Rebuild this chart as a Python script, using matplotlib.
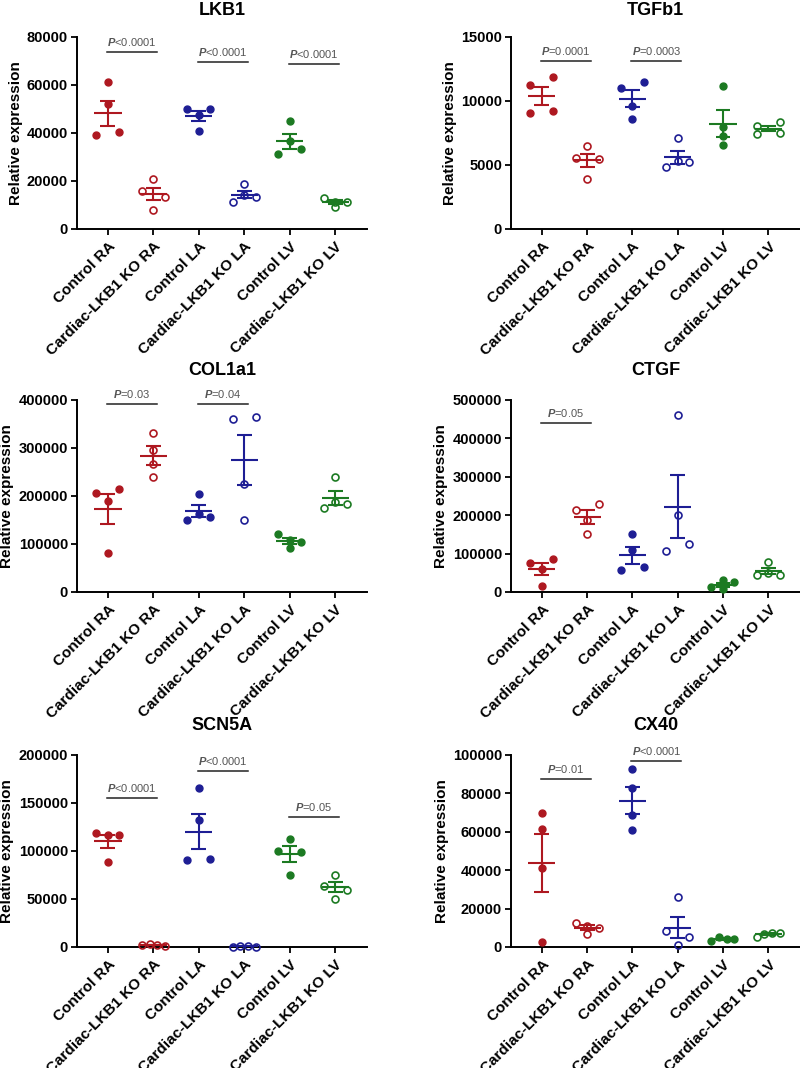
import numpy as np
import matplotlib
matplotlib.use('Agg')
import matplotlib.pyplot as plt

plt.rcParams['font.family'] = ['Liberation Sans', 'DejaVu Sans']
plt.rcParams['font.weight'] = 'bold'
plt.rcParams['axes.labelweight'] = 'bold'
plt.rcParams['mathtext.fontset'] = 'custom'
plt.rcParams['mathtext.rm'] = 'Liberation Sans'
plt.rcParams['mathtext.it'] = 'Liberation Sans:italic'

groups = ['Control RA', 'Cardiac-LKB1 KO RA', 'Control LA',
          'Cardiac-LKB1 KO LA', 'Control LV', 'Cardiac-LKB1 KO LV']

# values, 4 hearts per group
lkb1 = [[61100, 52000, 39200, 40300], [20800, 16000, 13500, 8000],
        [49900, 47500, 50000, 41000], [18600, 11400, 14200, 13200],
        [45100, 36600, 31250, 33200], [12800, 9000, 11200, 11400]]
tgfb1 = [[11270, 11840, 9060, 9240], [6500, 5550, 5470, 3900],
         [11000, 11450, 9630, 8600], [7100, 4840, 5280, 5200],
         [11200, 7970, 7230, 6530], [8070, 7450, 8330, 7500]]
col1a1 = [[205600, 214600, 189600, 80600], [331900, 295800, 266000, 240000],
          [203500, 150000, 162500, 156900], [360400, 363900, 225000, 150000],
          [120100, 92400, 108300, 104900], [240000, 175700, 188200, 182600]]
ctgf = [[76600, 85400, 59300, 16500], [214300, 230000, 186300, 151600],
        [151600, 109700, 57500, 64500], [459900, 199400, 106000, 124600],
        [12000, 30000, 26000, 8000], [78000, 44000, 50000, 45000]]
scn5a = [[118300, 116500, 116500, 88700], [2000, 2800, 2500, 1500],
         [166000, 132200, 90100, 91900], [500, 800, 600, 400],
         [113000, 100500, 99200, 74700], [74700, 64000, 59800, 50400]]
cx40 = [[69900, 61700, 41200, 2600], [12500, 6900, 10800, 9900],
        [92500, 83000, 68500, 60900], [26100, 8100, 5200, 800],
        [3000, 5300, 4000, 4000], [5200, 7000, 7200, 7100]]

# y axis top and tick step per panel
ymax = {'LKB1': 80000, 'TGFb1': 15000, 'COL1a1': 400000,
        'CTGF': 500000, 'SCN5A': 200000, 'CX40': 100000}
ystep = {'LKB1': 20000, 'TGFb1': 5000, 'COL1a1': 100000,
         'CTGF': 100000, 'SCN5A': 50000, 'CX40': 20000}

# comparisons: first group of the pair, label, bar height
pvals = {
    'LKB1': [(0, '<0.0001', 73750), (2, '<0.0001', 69600), (4, '<0.0001', 68600)],
    'TGFb1': [(0, '=0.0001', 13100), (2, '=0.0003', 13100)],
    'COL1a1': [(0, '=0.03', 391700), (2, '=0.04', 391700)],
    'CTGF': [(0, '=0.05', 440800)],
    'SCN5A': [(0, '<0.0001', 155500), (2, '<0.0001', 183300), (4, '=0.05', 135700)],
    'CX40': [(0, '=0.01', 87300), (2, '<0.0001', 96600)],
}

panels = [('LKB1', lkb1), ('TGFb1', tgfb1), ('COL1a1', col1a1),
          ('CTGF', ctgf), ('SCN5A', scn5a), ('CX40', cx40)]
colors = ['#AE1820', '#1E1E94', '#1C7A22']


def swarm(vals, ypx, xpx, tol=7.6, half=11.5):
    # put points that sit at almost the same height side by side
    vals = np.asarray(vals, float)
    order = np.argsort(-vals, kind='stable')
    rows = []
    for i in order:
        if rows and (vals[rows[-1][0]] - vals[i]) * ypx < tol:
            rows[-1].append(i)
        else:
            rows.append([i])
    off = np.zeros(len(vals))
    for r in rows:
        r = sorted(r)
        if len(r) > 1:
            off[r] = np.linspace(-half, half, len(r)) / xpx
    return off


fig = plt.figure(figsize=(8, 10.68), dpi=100)
lefts = [0.09625, 0.63875]
widths = [0.3625, 0.36125]
bottoms = [0.7856, 0.4457, 0.1133]
pads = [16, 18, 18]
xlim = (-0.68, 5.7)

for k, (name, data) in enumerate(panels):
    row, col = divmod(k, 2)
    ax = fig.add_axes([lefts[col], bottoms[row], widths[col], 0.1798])
    top = ymax[name]
    ax.set_xlim(*xlim)
    ax.set_ylim(0, top)
    ypx = ax.bbox.height / top
    xpx = ax.bbox.width / (xlim[1] - xlim[0])

    for i, v in enumerate(data):
        c = colors[i // 2]
        filled = i % 2 == 0
        x = i + swarm(v, ypx, xpx)
        ax.plot(x, v, 'o', ls='none', ms=5.0,
                mfc=c if filled else 'none', mec=c,
                mew=1.0 if filled else 1.2, zorder=3, clip_on=False)
        m = np.mean(v)
        sem = np.std(v, ddof=1) / np.sqrt(len(v))
        ax.hlines(m, i - 0.3, i + 0.3, color=c, lw=1.5, zorder=4)
        ax.vlines(i, m - sem, m + sem, color=c, lw=1.5, zorder=4)
        ax.hlines([m - sem, m + sem], i - 0.165, i + 0.165, color=c, lw=1.5, zorder=4)

    for g, lab, h in pvals[name]:
        ax.plot([g - 0.02, g + 1.08], [h, h], color='#222222', lw=1.1, clip_on=False)
        ax.annotate(r'$\mathit{P}$' + lab, xy=(g + 0.53, h), xytext=(0, 3),
                    textcoords='offset points', ha='center', va='bottom',
                    fontsize=8, fontweight='normal', color='#555555',
                    annotation_clip=False)

    ticks = np.arange(0, top + 1, ystep[name])
    ax.set_yticks(ticks, [str(int(t)) for t in ticks], fontsize=10.5)
    ax.set_xticks(range(len(groups)), groups, rotation=45, ha='right',
                  rotation_mode='anchor', fontsize=11)
    ax.set_ylabel('Relative expression', fontsize=11, fontweight='bold', labelpad=3)
    ax.set_title(name, fontsize=13, fontweight='bold', pad=pads[row])
    for s in ['top', 'right']:
        ax.spines[s].set_visible(False)
    for s in ['left', 'bottom']:
        ax.spines[s].set_linewidth(1.4)
    ax.tick_params(axis='both', width=1.3, length=4, direction='out')
    ax.tick_params(axis='y', pad=2.5)

fig.savefig('out.png', dpi=100)
